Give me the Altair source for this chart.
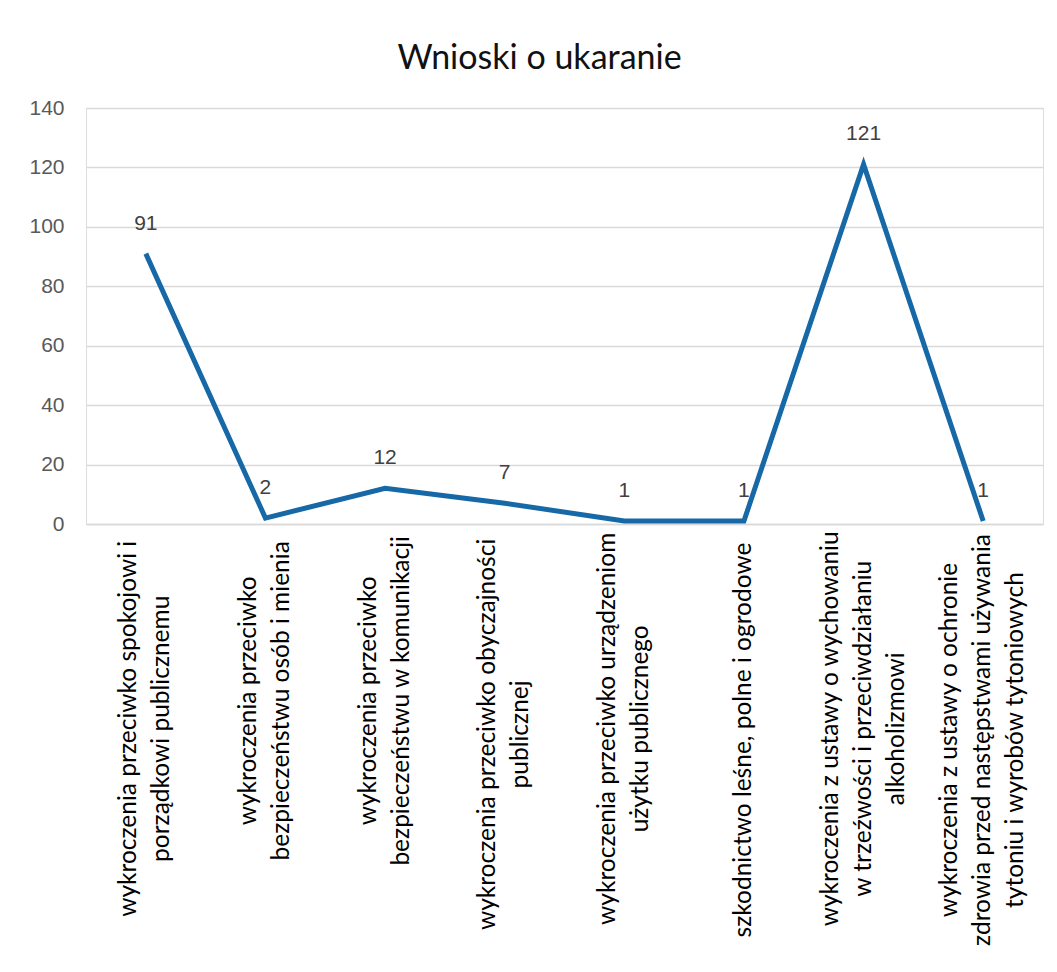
import altair as alt
import pandas as pd

categories = [
    "wykroczenia przeciwko spokojowi i\nporządkowi publicznemu",
    "wykroczenia przeciwko\nbezpieczeństwu osób i mienia",
    "wykroczenia przeciwko\nbezpieczeństwu w komunikacji",
    "wykroczenia przeciwko obyczajności\npublicznej",
    "wykroczenia przeciwko urządzeniom\nużytku publicznego",
    "szkodnictwo leśne, polne i ogrodowe",
    "wykroczenia z ustawy o wychowaniu\nw trzeźwości i przeciwdziałaniu\nalkoholizmowi",
    "wykroczenia z ustawy o ochronie\nzdrowia przed następstwami używania\ntytoniu i wyrobów tytoniowych",
]
values = [91, 2, 12, 7, 1, 1, 121, 1]
y_ticks = [0, 20, 40, 60, 80, 100, 120, 140]

title_text = "Wnioski o ukaranie"
LINE_COLOR = "#1668a6"
W, H = 957, 416
PAD_L, PAD_T, PAD_R, PAD_B = 78, 100, 6, 440
CAT_FONT = "Lato"
CAT_SIZE = 24.5
LINE_H = 33
CHAR_W = 11.2  # approx. px per character for category labels

df = pd.DataFrame({"cat": categories, "val": values, "order": list(range(len(values)))})

x_enc = alt.X("cat:N", sort=None,
              scale=alt.Scale(type="point", padding=0.5),
              axis=alt.Axis(labels=False, ticks=False, title=None,
                            domainColor="#d9d9d9", domainWidth=1.3))

base = alt.Chart(df)

line = base.mark_line(color=LINE_COLOR, strokeWidth=5, strokeJoin="miter").encode(
    x=x_enc,
    y=alt.Y("val:Q", scale=alt.Scale(domain=[0, 140], nice=False),
            axis=alt.Axis(values=y_ticks, title=None, domain=False, ticks=False,
                          gridColor="#d9d9d9", gridWidth=1.3,
                          labelFont="Liberation Sans", labelFontSize=21,
                          labelColor="#595959", labelPadding=22)),
    order="order:Q",
)

data_labels = base.mark_text(dy=-30, font="Liberation Sans", fontSize=21,
                             color="#404040", baseline="middle").encode(
    x=alt.X("cat:N", sort=None),
    y=alt.Y("val:Q"),
    text=alt.Text("val:Q"),
)

maxlen = ("max(length(split(datum.cat,'\\n')[0]),"
          " length(split(datum.cat,'\\n')[1] || ''),"
          " length(split(datum.cat,'\\n')[2] || ''))")

cat_layers = []
for k in (1, 2, 3):
    cat_layers.append(
        base.transform_calculate(
            maxlen=maxlen,
            nlines="length(split(datum.cat,'\\n'))",
        ).transform_filter(
            f"datum.nlines == {k}"
        ).transform_calculate(
            laby=f"{H} + 20 + datum.maxlen * {CHAR_W} / 2"
        ).mark_text(angle=270, align="center", baseline="middle", lineBreak="\n",
                    dy=-(k - 1) * LINE_H / 2,
                    font=CAT_FONT, fontSize=CAT_SIZE, lineHeight=LINE_H,
                    color="#000000").encode(
            x=alt.X("cat:N", sort=None),
            y=alt.Y("laby:Q", scale=None),
            text="cat:N",
        )
    )

chart = alt.layer(line, data_labels, *cat_layers).properties(
    width=W, height=H,
    title=alt.TitleParams(title_text, font=CAT_FONT, fontSize=34, fontWeight="normal",
                          color="#111111", anchor="middle", frame="group",
                          baseline="middle", offset=4, dx=-25),
    padding={"left": PAD_L, "top": PAD_T, "right": PAD_R, "bottom": PAD_B},
    autosize=alt.AutoSizeParams(type="none"),
).configure_view(stroke=None).configure(background="white")

chart.save("out.html", embed_options={"renderer": "svg", "actions": False})
